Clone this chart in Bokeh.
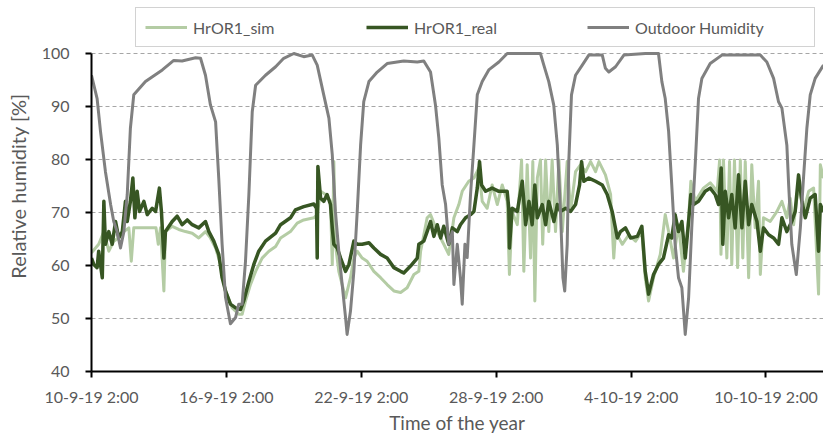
from bokeh.plotting import figure
from bokeh.models import Range1d, FixedTicker, Legend, LegendItem
from bokeh.embed import file_html
from bokeh.resources import INLINE

# x values: days since 10-9-19 2:00
tick_days = [0, 6, 12, 18, 24, 30]
tick_labels = ["10-9-19 2:00", "16-9-19 2:00", "22-9-19 2:00",
               "28-9-19 2:00", "4-10-19 2:00", "10-10-19 2:00"]
y_ticks = [40, 50, 60, 70, 80, 90, 100]
series_names = ["HrOR1_sim", "HrOR1_real", "Outdoor Humidity"]
series_colors = ["#b4cca4", "#375623", "#808080"]
series_widths = [3, 3.5, 3]

outdoor_t = [0.00, 0.25, 0.40, 0.62, 0.85, 0.99, 1.14, 1.29, 1.44, 1.59, 1.73, 1.88,
             2.40, 3.15, 3.66, 4.03, 4.63, 4.85, 5.07, 5.29, 5.52, 5.66, 5.81, 5.96,
             6.18, 6.41, 6.55, 6.70, 6.85, 7.00, 7.15, 7.30, 7.74, 8.19, 8.55, 9.00,
             9.44, 9.82, 10.04, 10.33, 10.56, 10.71, 10.85, 11.00, 11.15, 11.30, 11.37,
             11.52, 11.67, 11.82, 11.97, 12.11, 12.34, 12.71, 13.15, 13.89, 14.49, 14.78,
             15.08, 15.30, 15.45, 15.60, 15.75, 15.89, 16.05, 16.12, 16.27, 16.41, 16.49,
             16.61, 16.71, 16.86, 17.01, 17.16, 17.38, 17.67, 18.12, 18.49, 19.97, 20.12,
             20.34, 20.56, 20.72, 20.86, 20.97, 21.05, 21.16, 21.23, 21.35, 21.53, 21.83,
             22.12, 22.72, 22.86, 23.01, 23.31, 23.68, 24.64, 25.22, 25.37, 25.52, 25.67,
             25.81, 25.96, 26.11, 26.26, 26.41, 26.56, 26.70, 26.86, 27.00, 27.15, 27.52,
             28.04, 28.71, 29.75, 30.04, 30.34, 30.56, 30.71, 30.93, 31.01, 31.15, 31.35,
             31.53, 31.67, 31.82, 31.97, 32.19, 32.56]
outdoor_rh = [95.9, 91.5, 85.3, 77.7, 71.5, 68.3, 66.4, 63.3, 66.4, 73.4, 85.9, 92.2,
              94.7, 96.9, 98.7, 98.6, 99.2, 99.1, 95.9, 90.3, 87.1, 76.5, 64.0, 54.0,
              49.0, 50.2, 52.7, 52.7, 60.8, 73.4, 89.0, 94.0, 95.9, 97.5, 99.1, 100.0,
              99.4, 99.7, 97.8, 92.2, 87.8, 80.9, 70.2, 62.7, 56.4, 50.2, 47.0,
              51.4, 58.9, 70.2, 82.7, 90.9, 94.7, 96.5, 98.1, 98.6, 98.4, 98.6,
              96.5, 90.3, 84.0, 75.2, 71.5, 64.0, 66.4, 56.4, 64.0, 57.7, 52.7,
              64.0, 61.5, 73.4, 82.7, 92.2, 94.7, 96.9, 98.4, 100.0, 100.0, 97.8,
              94.7, 90.3, 82.7, 70.2, 57.7, 55.2, 64.0, 79.6, 92.2, 95.9, 97.8,
              99.7, 99.7, 97.2, 96.5, 97.5, 99.7, 100.0, 100.0, 94.7, 91.5, 85.3,
              75.2, 64.0, 57.7, 55.8, 47.0, 53.9, 67.1, 79.6, 91.5, 95.3, 98.1,
              99.7, 99.7, 99.7, 98.4, 95.3, 90.9, 89.7, 82.7, 75.2, 64.0, 58.3,
              67.1, 76.5, 85.9, 92.2, 95.3, 97.8]

real_t = [0.00, 0.10, 0.25, 0.32, 0.48, 0.55, 0.62, 0.77, 0.92, 1.07, 1.21, 1.37, 1.51,
          1.59, 1.73, 1.84, 1.93, 2.03, 2.14, 2.33, 2.48, 2.70, 2.85, 3.02, 3.11, 3.22,
          3.29, 3.59, 3.81, 4.03, 4.26, 4.48, 4.77, 5.07, 5.22, 5.44, 5.66, 5.81, 5.96,
          6.18, 6.41, 6.63, 6.77, 7.00, 7.22, 7.44, 7.74, 8.19, 8.41, 8.85, 9.07, 9.44,
          9.89, 10.01, 10.04, 10.07, 10.19, 10.33, 10.48, 10.63, 10.71, 10.78, 10.93,
          11.08, 11.30, 11.45, 11.67, 11.82, 12.04, 12.34, 12.56, 12.86, 13.15, 13.45,
          13.75, 13.89, 14.19, 14.49, 14.56, 14.78, 14.93, 15.08, 15.23, 15.38, 15.53,
          15.67, 15.89, 16.05, 16.27, 16.41, 16.64, 16.86, 17.01, 17.16, 17.26, 17.35,
          17.53, 17.82, 18.12, 18.49, 18.56, 18.59, 18.71, 18.94, 19.16, 19.31, 19.46,
          19.60, 19.72, 19.83, 20.05, 20.20, 20.34, 20.57, 20.72, 20.86, 21.09, 21.31,
          21.53, 21.71, 21.80, 21.90, 22.12, 22.42, 22.72, 22.94, 23.16, 23.39, 23.53,
          23.75, 23.98, 24.28, 24.48, 24.63, 24.78, 25.00, 25.22, 25.44, 25.67, 25.81,
          25.96, 26.11, 26.26, 26.41, 26.56, 26.66, 26.78, 27.00, 27.30, 27.52, 27.74,
          27.89, 28.01, 28.08, 28.19, 28.34, 28.48, 28.63, 28.78, 28.93, 29.08, 29.23,
          29.37, 29.60, 29.75, 29.89, 30.12, 30.34, 30.56, 30.71, 30.93, 31.15, 31.30,
          31.45, 31.60, 31.75, 31.97, 32.19, 32.34, 32.42, 32.56]
real_rh = [61.4, 60.2, 59.6, 62.7, 57.7, 72.1, 64.0, 66.4, 64.0, 68.3, 65.2, 66.4, 72.1,
           68.3, 72.1, 76.5, 69.0, 74.0, 70.2, 72.1, 69.6, 70.8, 70.2, 74.6, 70.2, 61.4,
           66.4, 68.3, 69.3, 67.7, 68.6, 67.7, 67.1, 68.3, 66.4, 64.6, 62.1, 57.7, 55.2,
           52.7, 52.0, 51.7, 53.3, 57.0, 60.2, 62.7, 64.6, 66.1, 67.7, 69.0, 70.5, 71.1,
           71.6, 70.8, 61.4, 78.7, 72.7, 72.1, 73.4, 71.5, 67.1, 64.0, 63.3,
           61.4, 58.9, 60.2, 64.6, 64.0, 64.0, 64.3, 63.3, 62.1, 61.4, 59.6,
           58.9, 58.6, 59.9, 61.4, 64.0, 64.6, 66.4, 68.3, 65.5, 67.7, 65.2,
           67.4, 64.0, 67.1, 66.4, 67.7, 69.0, 69.6, 70.2, 74.6, 79.6, 75.2,
           74.0, 74.6, 74.0, 74.0, 70.8, 63.3, 70.8, 70.2, 75.9, 67.7, 72.1,
           67.7, 75.2, 69.0, 71.5, 67.7, 72.1, 68.3, 71.5, 70.2, 70.8, 70.2,
           71.5, 75.2, 79.6, 75.9, 76.5, 75.9, 75.2, 73.4, 70.2, 65.2, 66.4,
           67.1, 65.2, 65.5, 67.4, 58.9, 54.6, 58.3, 60.2, 61.4, 65.8, 65.2,
           69.6, 66.4, 68.3, 61.4, 68.3, 73.4, 71.5, 72.1, 74.0, 74.6, 73.4,
           71.5, 78.4, 64.0, 74.0, 69.0, 73.4, 67.1, 77.1, 67.1, 75.9, 67.7,
           71.5, 68.3, 62.7, 67.1, 65.8, 65.2, 64.0, 69.0, 66.4, 68.3, 70.2,
           77.1, 72.1, 69.0, 72.7, 73.4, 62.7, 71.5, 70.2]

sim_t = [0.00, 0.32, 0.55, 0.77, 0.99, 1.21, 1.44, 1.66, 1.77, 1.88, 2.70, 2.87, 2.97,
         3.07, 3.22, 3.29, 3.59, 3.88, 4.18, 4.48, 4.77, 5.07, 5.29, 5.52, 5.74, 5.96,
         6.26, 6.55, 6.70, 6.85, 7.07, 7.30, 7.59, 7.89, 8.19, 8.41, 8.85, 9.15, 9.44,
         9.89, 10.04, 10.19, 10.41, 10.63, 10.71, 10.78, 10.85, 11.00, 11.15, 11.30,
         11.52, 11.67, 11.82, 12.04, 12.26, 12.56, 12.86, 13.15, 13.45, 13.75, 14.04,
         14.34, 14.56, 14.64, 14.93, 15.08, 15.38, 15.67, 15.89, 16.12, 16.34, 16.49,
         16.78, 17.01, 17.23, 17.38, 17.60, 17.82, 18.05, 18.27, 18.49, 18.59, 18.71,
         18.94, 19.13, 19.23, 19.38, 19.53, 19.63, 19.72, 19.83, 19.97, 20.07, 20.20,
         20.34, 20.49, 20.64, 20.79, 20.94, 21.16, 21.31, 21.53, 21.75, 21.98, 22.20,
         22.42, 22.57, 22.86, 23.09, 23.23, 23.31, 23.61, 23.90, 24.20, 24.48, 24.63,
         24.78, 25.00, 25.30, 25.52, 25.67, 25.89, 26.11, 26.33, 26.56, 26.66, 26.86,
         27.22, 27.52, 27.83, 27.94, 28.00, 28.11, 28.26, 28.38, 28.48, 28.60, 28.74,
         28.86, 28.97, 29.08, 29.23, 29.37, 29.52, 29.67, 29.75, 29.89, 30.19, 30.49,
         30.71, 30.93, 31.08, 31.23, 31.45, 31.67, 31.90, 32.12, 32.34, 32.42, 32.56]
sim_rh = [62.4, 64.0, 66.4, 62.7, 64.6, 65.2, 66.4, 67.1, 60.8, 67.1, 67.1, 67.1, 64.0,
          67.1, 55.2, 66.4, 67.4, 66.8, 66.4, 66.1, 65.2, 66.4, 65.2, 63.3, 60.2, 55.2,
          52.0, 50.8, 50.8, 53.3, 56.4, 58.9, 61.4, 62.7, 63.6, 65.2, 66.4, 68.0, 68.6,
          69.0, 69.6, 74.0, 73.4, 72.1, 60.2, 79.6, 64.0, 58.9, 56.4, 53.9,
          57.7, 61.4, 62.7, 61.4, 60.8, 58.9, 57.7, 56.4, 55.2, 54.9, 55.8,
          58.3, 58.9, 62.7, 69.0, 69.6, 66.4, 64.0, 62.1, 69.0, 71.5, 74.0,
          75.9, 76.5, 78.4, 72.1, 70.8, 75.2, 71.5, 75.2, 72.1, 58.3, 70.2,
          67.7, 79.9, 58.9, 79.0, 61.4, 79.6, 53.3, 76.5, 79.9, 64.0, 79.9,
          66.4, 79.9, 66.4, 79.9, 66.4, 79.6, 70.2, 77.7, 79.0, 77.7, 79.6,
          77.7, 79.6, 77.1, 73.4, 61.4, 66.4, 64.0, 65.8, 64.6, 66.4, 57.7,
          53.3, 57.7, 62.1, 69.6, 66.4, 61.4, 67.7, 58.9, 69.0, 75.9, 72.1,
          74.6, 75.6, 74.0, 79.9, 62.1, 79.9, 61.4, 79.6, 60.2, 79.9, 59.6,
          79.9, 61.4, 79.6, 57.7, 79.0, 67.1, 75.9, 58.3, 69.0, 68.3, 70.2,
          72.1, 69.0, 72.7, 67.7, 75.2, 70.2, 74.0, 74.6, 54.6, 79.0, 76.5]

FONT = "Lato"
TXT = "#595959"

# the frame reaches up to the top edge so that the legend (inside it) is not clipped;
# the y axis itself is bounded to 40..100
p = figure(width=823, height=436, output_backend="svg", toolbar_location=None,
           x_range=Range1d(0, 32.56), y_range=Range1d(40, 110),
           min_border_left=91, min_border_right=0, min_border_top=0,
           min_border_bottom=64)
p.outline_line_color = None
p.background_fill_color = "white"
p.border_fill_color = "white"

rs = []
for t, v, col, lw in zip([sim_t, real_t, outdoor_t], [sim_rh, real_rh, outdoor_rh],
                         series_colors, series_widths):
    rs.append(p.line(t, v, line_color=col, line_width=lw, line_join="round"))

p.xaxis.ticker = FixedTicker(ticks=tick_days)
p.xaxis.major_label_overrides = {d: s for d, s in zip(tick_days, tick_labels)}
p.yaxis.ticker = FixedTicker(ticks=y_ticks)
p.yaxis.bounds = (40, 100)
p.xaxis.axis_label = "Time of the year"
p.yaxis.axis_label = "Relative humidity [%]"

for ax in (p.xaxis, p.yaxis):
    ax.axis_line_color = "black"
    ax.axis_line_width = 2
    ax.major_tick_line_color = "black"
    ax.major_tick_line_width = 2
    ax.major_tick_out = 6
    ax.major_tick_in = 0
    ax.minor_tick_line_color = None
    ax.major_label_text_font = FONT
    ax.major_label_text_font_size = "16px"
    ax.major_label_text_color = TXT
    ax.axis_label_text_font = FONT
    ax.axis_label_text_font_size = "19px"
    ax.axis_label_text_font_style = "normal"
    ax.axis_label_text_color = TXT
p.yaxis.axis_label_text_font_size = "20px"
p.yaxis.major_label_standoff = 16
p.xaxis.major_label_standoff = 9
p.yaxis.axis_label_standoff = 9
p.xaxis.axis_label_standoff = 2

p.xgrid.visible = False
p.ygrid.grid_line_color = "#a6a6a6"
p.ygrid.grid_line_dash = "4 3"
p.ygrid.grid_line_width = 1

legend = Legend(items=[LegendItem(label=n, renderers=[r]) for n, r in zip(series_names, rs)],
                orientation="horizontal", location=(44, 324),
                glyph_width=42, glyph_height=20, label_standoff=6,
                label_width=170, spacing=3, padding=9, margin=0,
                label_text_font=FONT, label_text_font_size="16px",
                label_text_color=TXT, border_line_color="#a6a6a6",
                border_line_width=1, background_fill_color="white",
                background_fill_alpha=1.0)
p.add_layout(legend)

open("out.html", "w").write(file_html(p, INLINE))
